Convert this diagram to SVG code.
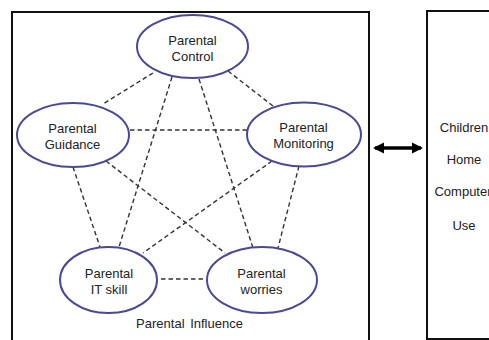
<svg xmlns="http://www.w3.org/2000/svg" width="489" height="340" viewBox="0 0 489 340">
<style>
.box{fill:none;stroke:#111;stroke-width:2}
.node{fill:#fff;stroke:#4B4896;stroke-width:2}
.lbl{font-family:"Liberation Sans",Arial,sans-serif;font-size:13px;fill:#222;text-anchor:middle}
.dash{stroke:#333;stroke-width:1.4;stroke-dasharray:4.5 3;fill:none}
</style>
<defs>
<marker id="ah" markerWidth="3.2" markerHeight="3.2" refX="2.6" refY="1.6" orient="auto-start-reverse" markerUnits="strokeWidth">
<path d="M0,0 L3.2,1.6 L0,3.2 Z" fill="#000"/>
</marker>
</defs>
<rect width="489" height="340" fill="#fff"/>
<rect class="box" x="12" y="12" width="357" height="345"/>
<rect class="box" x="427" y="11" width="80" height="328"/>
<g id="connectors">
<line class="dash" x1="153" y1="73" x2="103" y2="104"/>
<line class="dash" x1="228" y1="71" x2="273" y2="106"/>
<line class="dash" x1="172" y1="77" x2="119" y2="247"/>
<line class="dash" x1="199" y1="79" x2="253" y2="248"/>
<line class="dash" x1="130" y1="130" x2="247" y2="130"/>
<line class="dash" x1="73" y1="167" x2="100" y2="247"/>
<line class="dash" x1="106" y1="161" x2="225" y2="253"/>
<line class="dash" x1="272" y1="161" x2="143" y2="253"/>
<line class="dash" x1="299" y1="166" x2="278" y2="248"/>
<line class="dash" x1="161" y1="279" x2="206" y2="279"/>
<line x1="375" y1="148" x2="421" y2="148" stroke="#000" stroke-width="3.5" marker-start="url(#ah)" marker-end="url(#ah)"/>
</g>
<g id="control">
<ellipse class="node" cx="192.5" cy="46.5" rx="55.5" ry="31.5"/>
<text class="lbl" x="192.5" y="44.5">Parental</text>
<text class="lbl" x="192.5" y="60.5">Control</text>
</g>
<g id="guidance">
<ellipse class="node" cx="73" cy="135" rx="56" ry="32"/>
<text class="lbl" x="72.5" y="132.5">Parental</text>
<text class="lbl" x="72.5" y="148.5">Guidance</text>
</g>
<g id="monitoring">
<ellipse class="node" cx="304" cy="134.5" rx="57" ry="32"/>
<text class="lbl" x="303.5" y="132">Parental</text>
<text class="lbl" x="303.5" y="147.5">Monitoring</text>
</g>
<g id="itskill">
<ellipse class="node" cx="108.5" cy="280" rx="48.5" ry="33"/>
<text class="lbl" x="109" y="277.5">Parental</text>
<text class="lbl" x="109" y="293.5">IT skill</text>
</g>
<g id="worries">
<ellipse class="node" cx="262" cy="280" rx="55" ry="33"/>
<text class="lbl" x="261.5" y="277.5">Parental</text>
<text class="lbl" x="261.5" y="293.5">worries</text>
</g>
<text class="lbl" x="189.5" y="327.5" word-spacing="2">Parental Influence</text>
<g id="children-use">
<text class="lbl" x="464" y="131.5">Children</text>
<text class="lbl" x="464" y="164">Home</text>
<text class="lbl" x="463" y="196">Computer</text>
<text class="lbl" x="464" y="230">Use</text>
</g>
</svg>
